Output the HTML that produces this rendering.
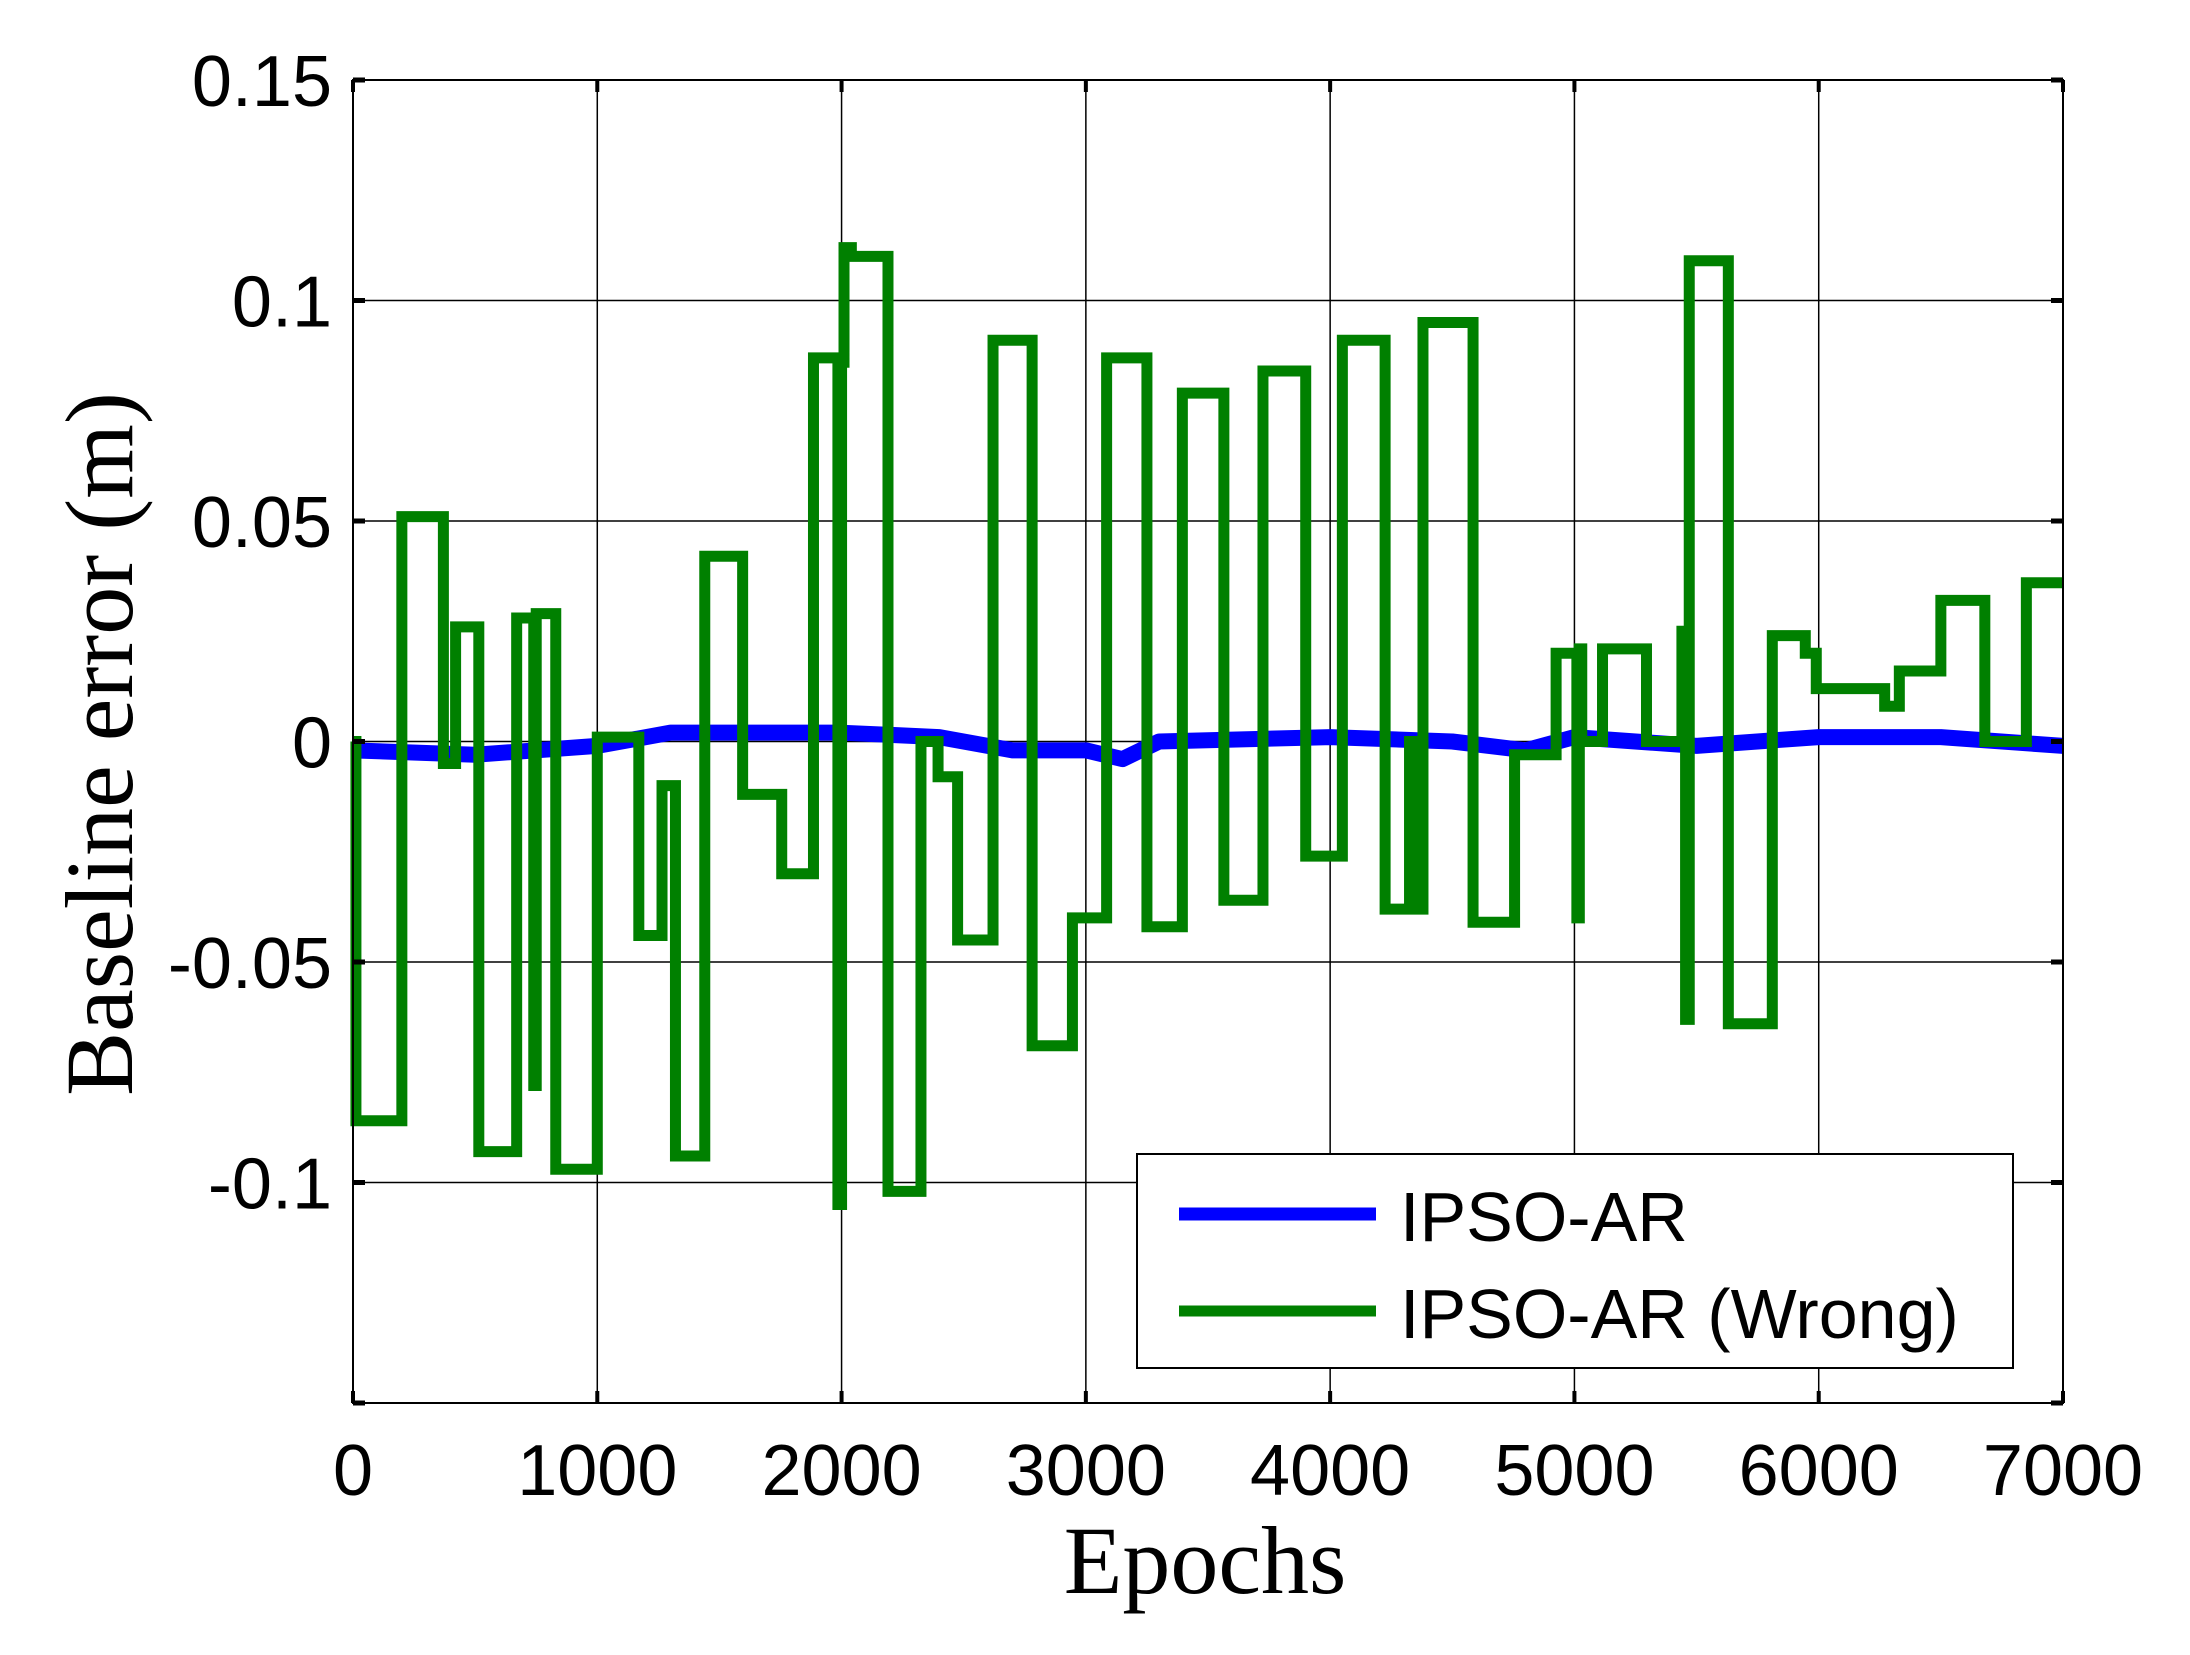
<!DOCTYPE html>
<html><head><meta charset="utf-8"><style>body{margin:0;background:#fff}svg{display:block}</style></head>
<body>
<svg id="chart" width="2190" height="1655" viewBox="0 0 2190 1655" xmlns="http://www.w3.org/2000/svg">
<rect width="2190" height="1655" fill="#fff"/>
<g id="grid"></g>
<g id="series"></g>
<g id="axes"></g>
<text x="1205" y="1593" font-family="Liberation Serif, serif" font-size="96" text-anchor="middle">Epochs</text>
<text transform="translate(132,744) rotate(-90)" font-family="Liberation Serif, serif" font-size="96" text-anchor="middle">Baseline error (m)</text>
<g>
<rect x="1137" y="1154" width="876" height="214" fill="#fff" stroke="#000" stroke-width="2"/>
<line x1="1179" y1="1214" x2="1376" y2="1214" stroke="#0000ff" stroke-width="13"/>
<text x="1400" y="1241" font-family="Liberation Sans, sans-serif" font-size="70">IPSO-AR</text>
<line x1="1179" y1="1311" x2="1376" y2="1311" stroke="#008000" stroke-width="11"/>
<text x="1400" y="1338" font-family="Liberation Sans, sans-serif" font-size="70">IPSO-AR (Wrong)</text>
</g>
</svg>
<script>
const xTicks=[0,1000,2000,3000,4000,5000,6000,7000];
const yTicks=[0.15,0.1,0.05,0,-0.05,-0.1,-0.15];
const yTickLabels=["0.15","0.1","0.05","0","-0.05","-0.1",""];
const greenEpochs=[0,12,200,370,420,515,670,740,750,830,1000,1170,1265,1320,1440,1595,1755,1885,1985,2000,2010,2040,2190,2325,2395,2475,2620,2780,2945,3085,3250,3395,3565,3725,3900,4050,4225,4325,4345,4380,4585,4755,4925,5010,5020,5030,5115,5295,5440,5455,5470,5630,5810,5945,5990,6270,6330,6500,6680,6850,7000];
const greenValues=[0,-0.086,0.051,-0.005,0.026,-0.093,0.028,-0.078,0.029,-0.097,0.001,-0.044,-0.01,-0.094,0.042,-0.012,-0.03,0.087,-0.105,0.086,0.112,0.11,-0.102,0.0,-0.008,-0.045,0.091,-0.069,-0.04,0.087,-0.042,0.079,-0.036,0.084,-0.026,0.091,-0.038,0.0,-0.038,0.095,-0.041,-0.003,0.02,-0.04,0.021,0.0,0.021,0.0,0.025,-0.063,0.109,-0.064,0.024,0.02,0.012,0.008,0.016,0.032,0.0,0.036,0.036];
const blueEpochs=[0,500,1000,1300,1600,2000,2400,2700,3000,3150,3300,4000,4500,4800,5000,5500,6000,6500,7000];
const blueValues=[-0.002,-0.003,-0.001,0.002,0.002,0.002,0.001,-0.002,-0.002,-0.004,0.0,0.001,0.0,-0.002,0.001,-0.001,0.001,0.001,-0.001];
const L=353,R=2063,T=80,B=1403;
const sx=v=>L+(v-0)/(7000)*(R-L);
const sy=v=>T+(0.15-v)/0.3*(B-T);
const NS="http://www.w3.org/2000/svg";
function mk(tag,attrs,parent){const e=document.createElementNS(NS,tag);for(const k in attrs)e.setAttribute(k,attrs[k]);parent.appendChild(e);return e;}
const grid=document.getElementById('grid'),axes=document.getElementById('axes'),series=document.getElementById('series');
xTicks.forEach((t,i)=>{
 const g=mk('line',{x1:sx(t),x2:sx(t),y1:T,y2:B,stroke:'#000','stroke-width':1.5},grid);
 
 
 const a=mk('line',{x1:sx(t),x2:sx(t),y1:B,y2:B-12,stroke:'#000','stroke-width':4},axes);
 
 
 const a2=mk('line',{x1:sx(t),x2:sx(t),y1:T,y2:T+12,stroke:'#000','stroke-width':4},axes);
 
 
 const lb=mk('text',{x:sx(t),y:1495,'font-family':'Liberation Sans, sans-serif','font-size':72,'text-anchor':'middle'},axes);
 lb.textContent=String(t);
 
 
});
yTicks.forEach((t,i)=>{
 const g=mk('line',{x1:L,x2:R,y1:sy(t),y2:sy(t),stroke:'#000','stroke-width':1.5},grid);
 
 
 const a=mk('line',{x1:L,x2:L+12,y1:sy(t),y2:sy(t),stroke:'#000','stroke-width':5},axes);
 
 
 const a2=mk('line',{x1:R,x2:R-12,y1:sy(t),y2:sy(t),stroke:'#000','stroke-width':5},axes);
 
 
 const lb=mk('text',{x:332,y:sy(t)+26,'font-family':'Liberation Sans, sans-serif','font-size':72,'text-anchor':'end'},axes);
 lb.textContent=yTickLabels[i];
 
 
});
const box=mk('rect',{x:L,y:T,width:R-L,height:B-T,fill:'none',stroke:'#000','stroke-width':2},axes);


let bd='';blueEpochs.forEach((e,i)=>{bd+=(i?'L':'M')+sx(e)+','+sy(blueValues[i]);});
const bl=mk('path',{d:bd,fill:'none',stroke:'#0000ff','stroke-width':16,'stroke-linejoin':'round'},series);


let gd='M'+sx(greenEpochs[0])+','+sy(greenValues[0]);
for(let i=1;i<greenEpochs.length;i++){gd+='L'+sx(greenEpochs[i])+','+sy(greenValues[i-1])+'L'+sx(greenEpochs[i])+','+sy(greenValues[i]);}
const gl=mk('path',{d:gd,fill:'none',stroke:'#008000','stroke-width':11,'stroke-linejoin':'miter'},series);


</script>
</body></html>
